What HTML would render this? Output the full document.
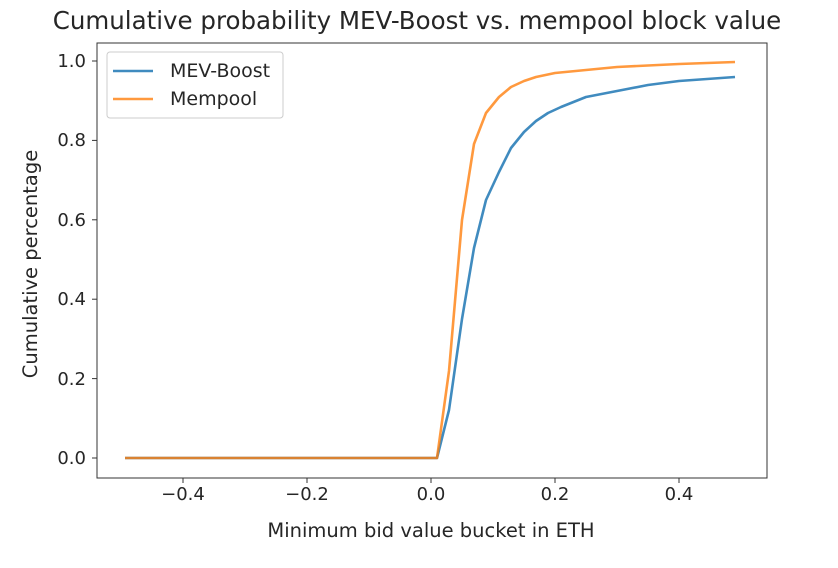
<!DOCTYPE html>
<html><head><style>body{margin:0;background:#fff}svg{display:block}</style></head><body>
<svg width="838" height="568" xmlns="http://www.w3.org/2000/svg" font-family="'DejaVu Sans','Liberation Sans',sans-serif" fill="#262626">
<text x="417" y="29" font-size="24.5" text-anchor="middle">Cumulative probability MEV-Boost vs. mempool block value</text>
<g stroke="#333" stroke-width="1">
<line x1="183" y1="478" x2="183" y2="483"/><line x1="307" y1="478" x2="307" y2="483"/><line x1="431" y1="478" x2="431" y2="483"/><line x1="555" y1="478" x2="555" y2="483"/><line x1="679" y1="478" x2="679" y2="483"/>
<line x1="92" y1="458" x2="97" y2="458"/><line x1="92" y1="378.6" x2="97" y2="378.6"/><line x1="92" y1="299.2" x2="97" y2="299.2"/><line x1="92" y1="219.8" x2="97" y2="219.8"/><line x1="92" y1="140.4" x2="97" y2="140.4"/><line x1="92" y1="61" x2="97" y2="61"/>
</g>
<g font-size="18" text-anchor="middle">
<text x="183" y="500">−0.4</text><text x="307" y="500">−0.2</text><text x="431" y="500">0.0</text><text x="555" y="500">0.2</text><text x="679" y="500">0.4</text>
</g>
<g font-size="18" text-anchor="end">
<text x="86" y="464">0.0</text><text x="86" y="385">0.2</text><text x="86" y="305">0.4</text><text x="86" y="226">0.6</text><text x="86" y="146">0.8</text><text x="86" y="67">1.0</text>
</g>
<text x="431" y="537" font-size="19.5" text-anchor="middle">Minimum bid value bucket in ETH</text>
<text transform="translate(37,264) rotate(-90)" font-size="19.5" text-anchor="middle">Cumulative percentage</text>
<polyline fill="none" stroke="#1f77b4" stroke-width="2.6" stroke-opacity="0.85" stroke-linejoin="round" points="125,458 437,458 449,410 462,319 474,248 486,200 499,172 511,148 524,132 536,121 548,113 561,107 586,97 617,91 648,85 679,81 735,77"/>
<polyline fill="none" stroke="#ff7f0e" stroke-width="2.6" stroke-opacity="0.8" stroke-linejoin="round" points="125,458 437,458 449,371 462,220 474,144 486,113 499,97 511,87 524,81 536,77 555,73 617,67 679,64 735,62"/>
<rect x="97" y="43" width="670" height="435" fill="none" stroke="#333" stroke-width="1"/>
<rect x="107" y="52" width="176" height="66" rx="3" fill="#fff" fill-opacity="0.8" stroke="#ccc"/>
<line x1="113" y1="71" x2="153" y2="71" stroke="#1f77b4" stroke-width="2.6" stroke-opacity="0.85"/>
<line x1="113" y1="99" x2="153" y2="99" stroke="#ff7f0e" stroke-width="2.6" stroke-opacity="0.8"/>
<text x="170" y="77" font-size="19">MEV-Boost</text>
<text x="170" y="105" font-size="19">Mempool</text>
</svg>
</body></html>
